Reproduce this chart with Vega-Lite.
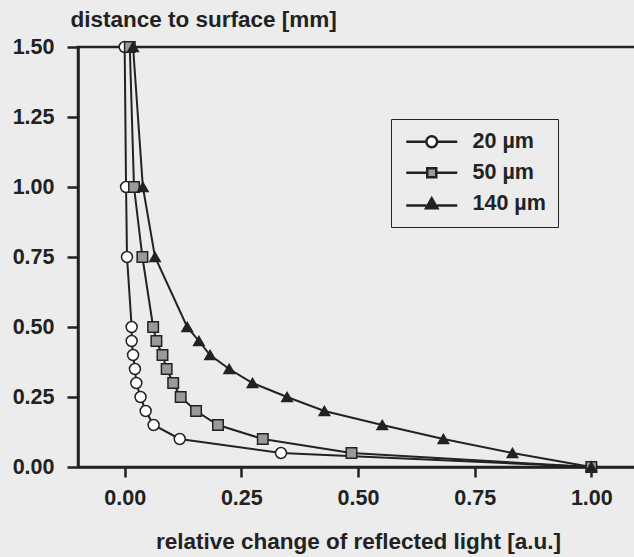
{
  "$schema": "https://vega.github.io/schema/vega-lite/v6.json",
  "autosize": "none",
  "padding": {"left": 78, "top": 47, "right": 0, "bottom": 90},
  "width": 560,
  "height": 420,
  "background": "#ececec",
  "config": {
    "view": {"stroke": "#222", "strokeWidth": 2.5},
    "font": "Liberation Sans",
    "axis": {
      "grid": false,
      "domainColor": "#222",
      "domainWidth": 2.5,
      "tickColor": "#222",
      "tickWidth": 2.5,
      "labelFont": "Liberation Sans",
      "labelFontSize": 21.5,
      "labelFontWeight": "bold",
      "labelColor": "#222",
      "titleFont": "Liberation Sans",
      "titleFontSize": 22.5,
      "titleFontWeight": "bold",
      "titleColor": "#222"
    },
    "legend": {
      "title": null,
      "orient": "none",
      "legendX": 313,
      "legendY": 72,
      "strokeColor": "#222",
      "fillColor": "#ececec",
      "padding": 12,
      "labelFont": "Liberation Sans",
      "labelFontSize": 21.5,
      "labelFontWeight": "bold",
      "labelColor": "#222",
      "symbolSize": 144,
      "symbolOffset": 18,
      "symbolStrokeWidth": 2.5,
      "symbolStrokeColor": "#222",
      "labelOffset": 30,
      "rowPadding": 8
    }
  },
  "data": {
    "values": [
      {"series": "20 µm", "x": 0.0, "y": 1.5},
      {"series": "20 µm", "x": 0.003, "y": 1.0},
      {"series": "20 µm", "x": 0.005, "y": 0.75},
      {"series": "20 µm", "x": 0.015, "y": 0.5},
      {"series": "20 µm", "x": 0.015, "y": 0.45},
      {"series": "20 µm", "x": 0.018, "y": 0.4},
      {"series": "20 µm", "x": 0.022, "y": 0.35},
      {"series": "20 µm", "x": 0.025, "y": 0.3},
      {"series": "20 µm", "x": 0.034, "y": 0.25},
      {"series": "20 µm", "x": 0.045, "y": 0.2},
      {"series": "20 µm", "x": 0.062, "y": 0.15},
      {"series": "20 µm", "x": 0.118, "y": 0.1},
      {"series": "20 µm", "x": 0.335, "y": 0.05},
      {"series": "20 µm", "x": 1.0, "y": 0.0},
      {"series": "50 µm", "x": 0.011, "y": 1.5},
      {"series": "50 µm", "x": 0.02, "y": 1.0},
      {"series": "50 µm", "x": 0.038, "y": 0.75},
      {"series": "50 µm", "x": 0.061, "y": 0.5},
      {"series": "50 µm", "x": 0.068, "y": 0.45},
      {"series": "50 µm", "x": 0.081, "y": 0.4},
      {"series": "50 µm", "x": 0.09, "y": 0.35},
      {"series": "50 µm", "x": 0.104, "y": 0.3},
      {"series": "50 µm", "x": 0.12, "y": 0.25},
      {"series": "50 µm", "x": 0.153, "y": 0.2},
      {"series": "50 µm", "x": 0.2, "y": 0.15},
      {"series": "50 µm", "x": 0.296, "y": 0.1},
      {"series": "50 µm", "x": 0.486, "y": 0.05},
      {"series": "50 µm", "x": 1.0, "y": 0.0},
      {"series": "140 µm", "x": 0.018, "y": 1.5},
      {"series": "140 µm", "x": 0.039, "y": 1.0},
      {"series": "140 µm", "x": 0.065, "y": 0.75},
      {"series": "140 µm", "x": 0.134, "y": 0.5},
      {"series": "140 µm", "x": 0.159, "y": 0.45},
      {"series": "140 µm", "x": 0.183, "y": 0.4},
      {"series": "140 µm", "x": 0.224, "y": 0.35},
      {"series": "140 µm", "x": 0.274, "y": 0.3},
      {"series": "140 µm", "x": 0.348, "y": 0.25},
      {"series": "140 µm", "x": 0.428, "y": 0.2},
      {"series": "140 µm", "x": 0.552, "y": 0.15},
      {"series": "140 µm", "x": 0.683, "y": 0.1},
      {"series": "140 µm", "x": 0.831, "y": 0.05},
      {"series": "140 µm", "x": 1.0, "y": 0.0}
    ]
  },
  "encoding": {
    "x": {
      "field": "x",
      "type": "quantitative",
      "scale": {"domain": [-0.1, 1.1], "nice": false, "zero": false},
      "axis": {
        "title": "relative change of reflected light [a.u.]",
        "values": [0, 0.25, 0.5, 0.75, 1],
        "format": ".2f",
        "tickSize": 10,
        "labelPadding": 10,
        "titleBaseline": "alphabetic",
        "titleY": 81
      }
    },
    "y": {
      "field": "y",
      "type": "quantitative",
      "scale": {"domain": [0, 1.5], "nice": false},
      "axis": {
        "title": "distance to surface [mm]",
        "values": [0, 0.25, 0.5, 0.75, 1, 1.25, 1.5],
        "format": ".2f",
        "tickSize": 11,
        "labelPadding": 13,
        "titleAngle": 0,
        "titleAlign": "left",
        "titleBaseline": "alphabetic",
        "titleX": -8,
        "titleY": -21
      }
    }
  },
  "layer": [
    {
      "mark": {"type": "line", "color": "#222", "strokeWidth": 2},
      "encoding": {
        "detail": {"field": "series", "type": "nominal"},
        "order": {"field": "y", "type": "quantitative"}
      }
    },
    {
      "transform": [{"filter": "datum.series === '20 µm'"}],
      "mark": {"type": "point", "shape": "circle", "filled": true, "fill": "#ffffff", "stroke": "#222", "strokeWidth": 1.5, "size": 120, "opacity": 1},
      "encoding": {}
    },
    {
      "transform": [{"filter": "datum.series === '50 µm'"}],
      "mark": {"type": "point", "shape": "square", "filled": true, "fill": "#9a9a9a", "stroke": "#222", "strokeWidth": 1.5, "size": 110, "opacity": 1},
      "encoding": {}
    },
    {
      "transform": [{"filter": "datum.series === '140 µm'"}],
      "mark": {"type": "point", "shape": "triangle-up", "filled": true, "fill": "#222", "stroke": "#222", "strokeWidth": 1.5, "size": 110, "opacity": 1},
      "encoding": {}
    },
    {
      "mark": {"type": "point", "filled": true, "stroke": "#222", "strokeWidth": 2.5, "size": 144, "opacity": 0},
      "encoding": {
        "fill": {
          "field": "series",
          "type": "nominal",
          "scale": {"domain": ["20 µm", "50 µm", "140 µm"], "range": ["#ffffff", "#9a9a9a", "#222222"]},
          "legend": {
            "title": null,
            "encode": {"symbols": {"update": {"stroke": {"value": "#222"}, "strokeWidth": {"value": 2.5}, "opacity": {"value": 1}}}}
          }
        },
        "shape": {
          "field": "series",
          "type": "nominal",
          "scale": {
            "domain": ["20 µm", "50 µm", "140 µm"],
            "range": [
              "M-4.25,0H-0.9M0.9,0H4.25M-0.9,0A0.9,0.9 0 1,1 0.9,0A0.9,0.9 0 1,1 -0.9,0Z",
              "M-4.25,0H-0.75M0.75,0H4.25M-0.75,-0.75H0.75V0.75H-0.75Z",
              "M-4.25,0.3H-0.9M0.9,0.3H4.25M0,-0.9L0.95,0.75H-0.95Z"
            ]
          },
          "legend": {
            "title": null,
            "encode": {"symbols": {"update": {"stroke": {"value": "#222"}, "strokeWidth": {"value": 2.5}, "opacity": {"value": 1}}}}
          }
        }
      }
    }
  ]
}
